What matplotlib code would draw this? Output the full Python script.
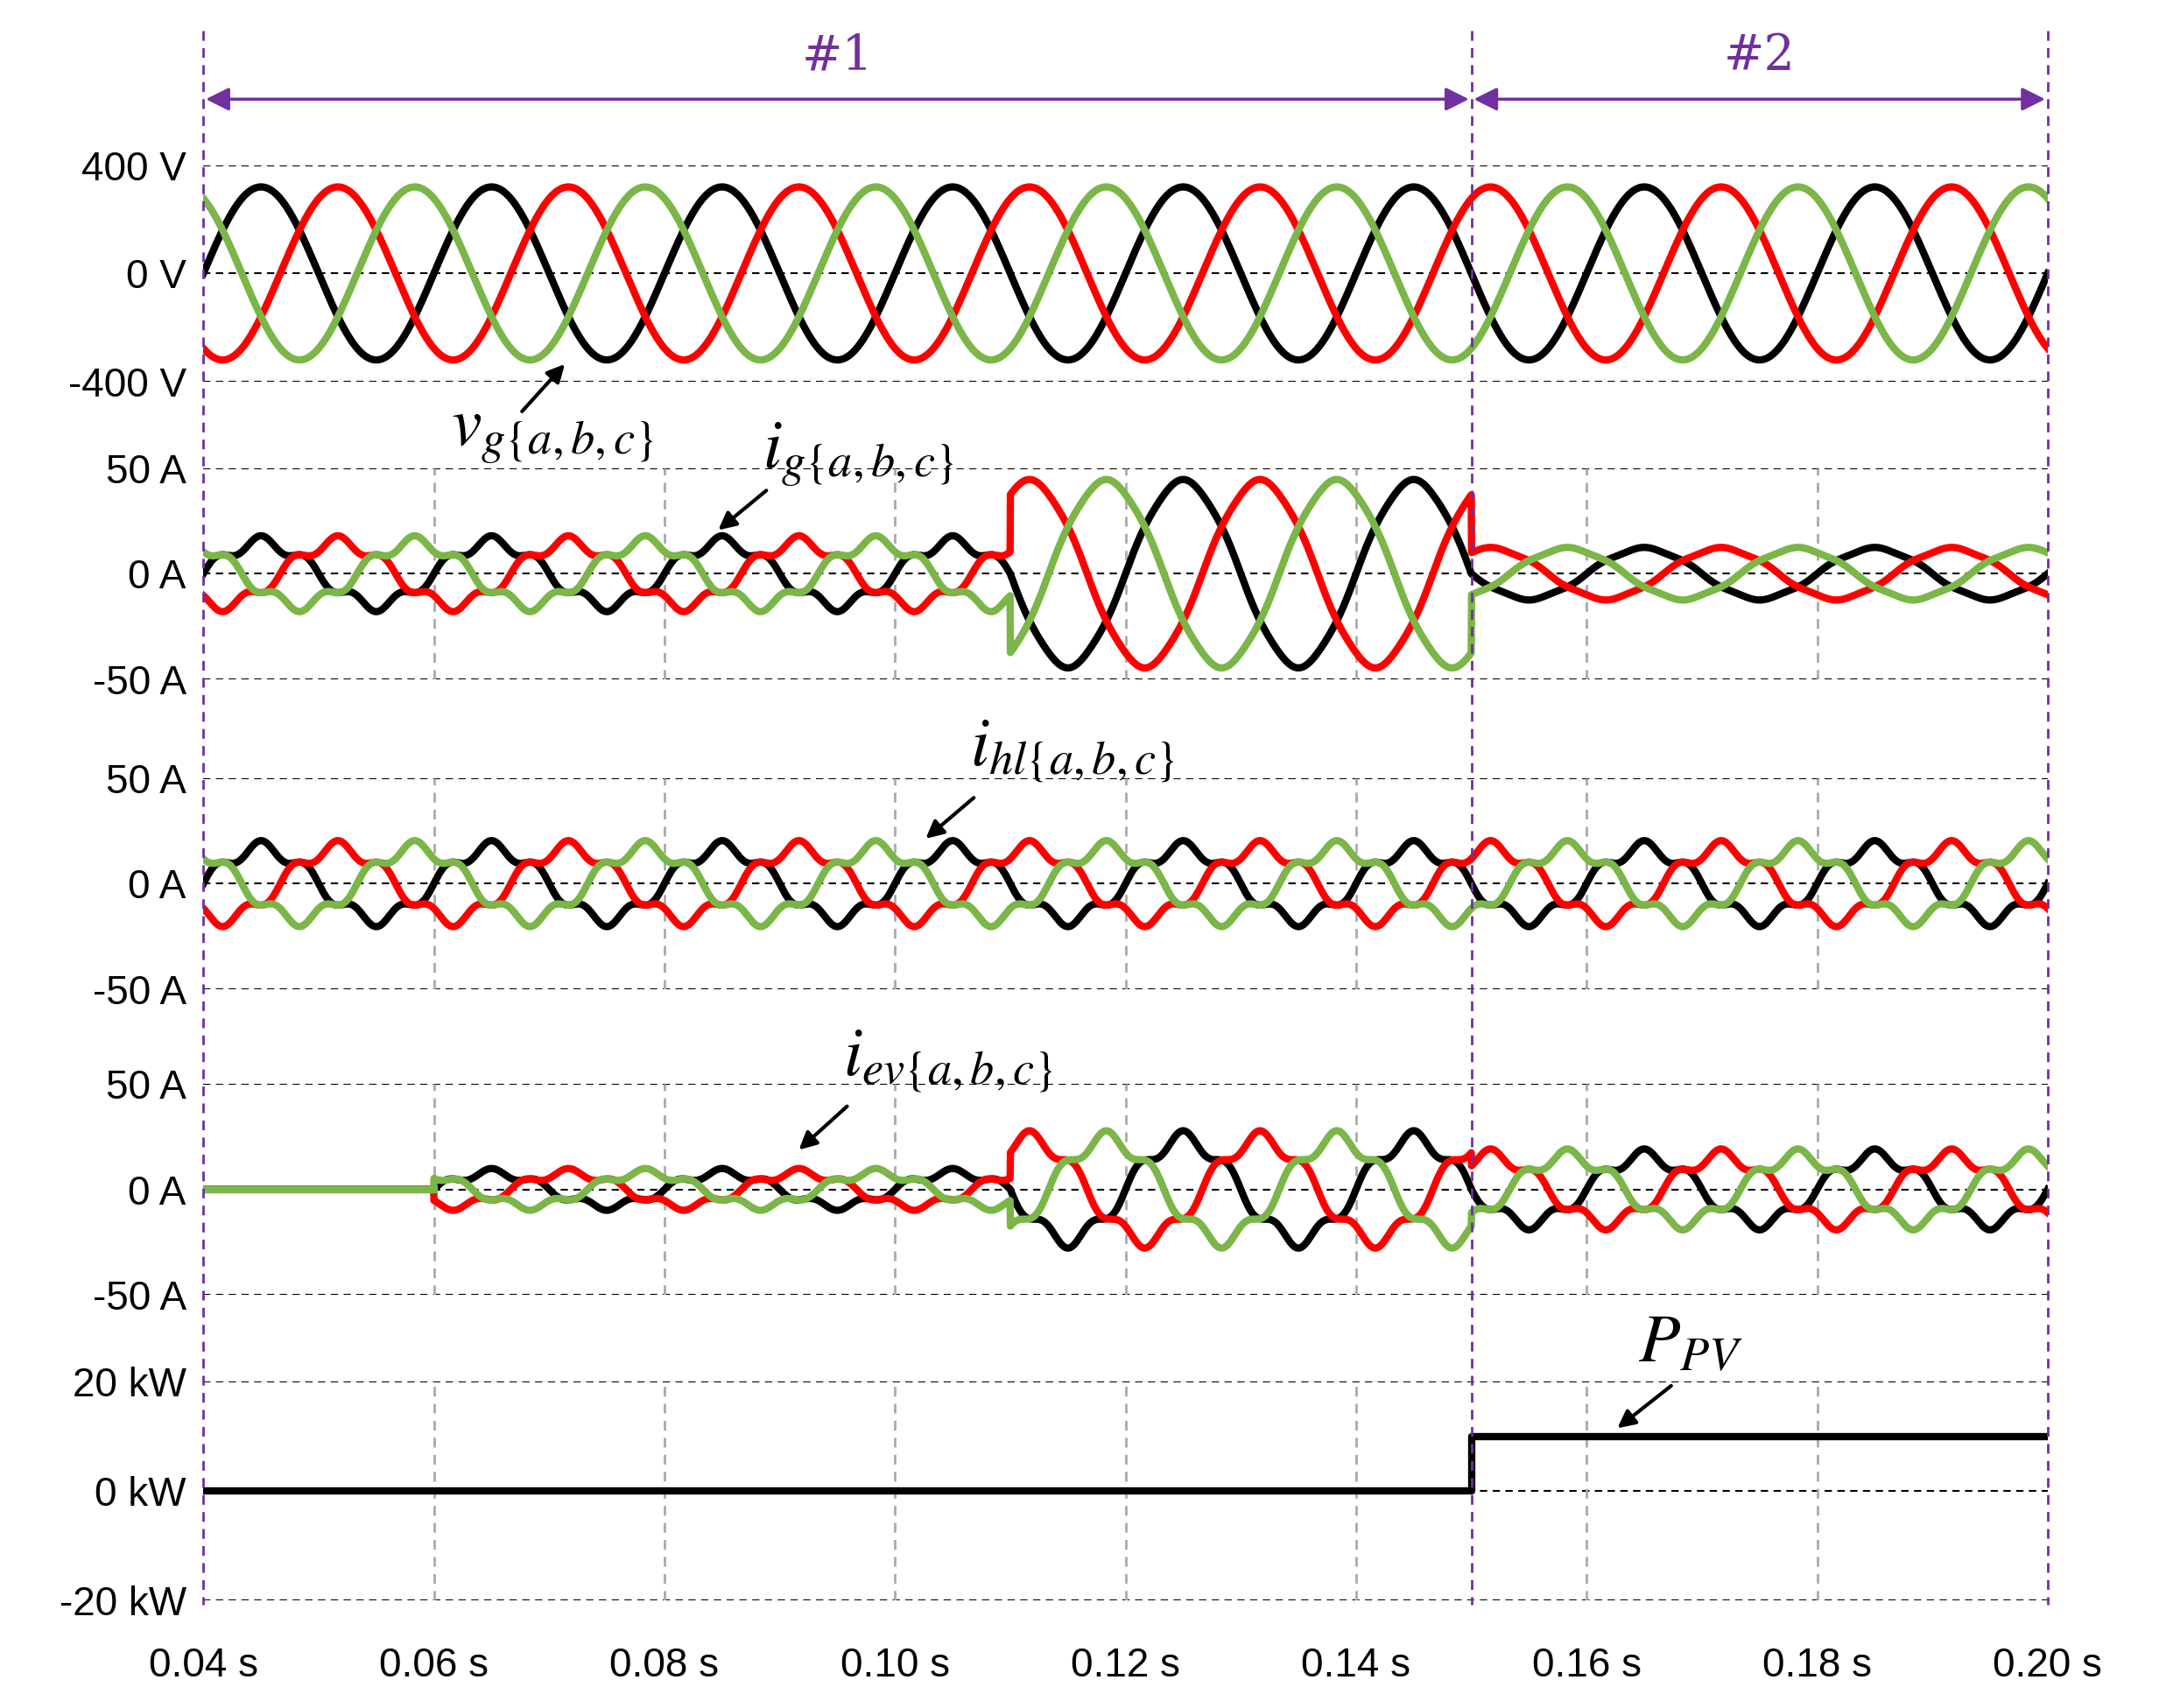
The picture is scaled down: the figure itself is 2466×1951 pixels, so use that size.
import numpy as np
import matplotlib
matplotlib.use("Agg")
import matplotlib.pyplot as plt

plt.rcParams['font.family'] = ['Liberation Sans', 'DejaVu Sans']
plt.rcParams['mathtext.fontset'] = 'stix'

# ---- data ----
f0 = 50.0
v_amp = 320.0
seg_t = [0.04, 0.06, 0.11, 0.15, 0.20]
ig_amp = [15, 15, 44, 12]
ig_h5 = [0.25, 0.25, 0.02, 0.05]
ihl_amp = [17, 17, 17, 17]
ihl_h5 = [0.25, 0.25, 0.25, 0.25]
iev_amp = [0, 8, 24, 16]
iev_h5 = [0.3, 0.3, 0.2, 0.25]
ppv_t = [0.04, 0.15, 0.15, 0.20]
ppv_v = [0, 0, 10, 10]
xticks = [0.04, 0.06, 0.08, 0.10, 0.12, 0.14, 0.16, 0.18, 0.20]
phase_cols = ['black', 'red', '#7ab648']

t = np.linspace(0.04, 0.20, 6000)
w = 2 * np.pi * f0

def seg_val(arr):
    idx = np.clip(np.searchsorted(seg_t, t, side='right') - 1, 0, len(arr) - 1)
    return np.array(arr)[idx]

def wave(amps, h5, ph):
    A = seg_val(amps); H = seg_val(h5)
    return A * (np.sin(w * t + ph) + H * np.sin(5 * (w * t + ph)) * 0.8)

W, H = 1571.0, 1240.0
fig = plt.figure(figsize=(24.66, 19.51), dpi=100)
L, R = 148 / W, 1490 / W

def add_ax(top, bot):
    return fig.add_axes([L, 1 - bot / H, R - L, (bot - top) / H])

panels = [
    (120, 277, 400, ['400 V', '0 V', '-400 V'], False),
    (340, 493, 50, ['50 A', '0 A', '-50 A'], True),
    (565, 718, 50, ['50 A', '0 A', '-50 A'], True),
    (787, 940, 50, ['50 A', '0 A', '-50 A'], True),
    (1003, 1162, 20, ['20 kW', '0 kW', '-20 kW'], True),
]
phases = [0, -2 * np.pi / 3, 2 * np.pi / 3]
axes = []
for i, (top, bot, lim, labs, vgrid) in enumerate(panels):
    ax = add_ax(top, bot)
    ax.set_xlim(0.04, 0.20); ax.set_ylim(-lim, lim)
    for s in ax.spines.values():
        s.set_visible(False)
    ax.set_yticks([lim, 0, -lim]); ax.set_yticklabels(labs, fontsize=33)
    ax.tick_params(length=0, pad=14)
    for yv in [lim, 0, -lim]:
        ax.axhline(yv, color='black', ls=(0, (4, 3)), lw=1.5, zorder=1)
    if vgrid:
        for xv in xticks[1:-1]:
            ax.axvline(xv, color='#aaaaaa', ls=(0, (4, 3)), lw=2, zorder=1)
    ax.set_xticks(xticks)
    if i == 4:
        ax.set_xticklabels([f'{x:.2f} s' for x in xticks], fontsize=33)
        ax.tick_params(axis='x', pad=38)
    else:
        ax.set_xticklabels([])
    axes.append(ax)

for ph, c in zip(phases, phase_cols):
    axes[0].plot(t, v_amp * np.sin(w * t + ph), color=c, lw=6, zorder=3)
    axes[1].plot(t, wave(ig_amp, ig_h5, ph), color=c, lw=6, zorder=3)
    axes[2].plot(t, wave(ihl_amp, ihl_h5, ph), color=c, lw=6, zorder=3)
    axes[3].plot(t, wave(iev_amp, iev_h5, ph), color=c, lw=6, zorder=3)
axes[3].plot([0.04, 0.06], [0, 0], color=phase_cols[2], lw=6, zorder=4)
axes[4].plot(ppv_t, ppv_v, color='black', lw=6, zorder=3)

ov = fig.add_axes([L, 1 - 1165 / H, R - L, (1165 - 20) / H])
ov.set_xlim(0.04, 0.20); ov.set_ylim(1165, 20); ov.axis('off'); ov.patch.set_alpha(0)
pur = '#7030a0'
for xv in [0.04, 0.15, 0.20]:
    ov.plot([xv, xv], [22, 1165], color=pur, ls=(0, (4, 3)), lw=2, clip_on=False)
ap = dict(arrowstyle='<|-|>', color=pur, lw=2.5, mutation_scale=40)
ov.annotate('', xy=(0.04, 72), xytext=(0.15, 72), arrowprops=ap)
ov.annotate('', xy=(0.15, 72), xytext=(0.20, 72), arrowprops=ap)
ov.text(0.095, 58, '#1', color=pur, fontsize=40, ha='center', va='bottom', family='serif')
ov.text(0.175, 58, '#2', color=pur, fontsize=40, ha='center', va='bottom', family='serif')

ak = dict(arrowstyle='-|>', color='black', lw=3, mutation_scale=30)
lbl = dict(fontsize=56, color='black')
ov.annotate('', xy=(0.0715, 263), xytext=(0.0675, 300), arrowprops=ak)
ov.text(0.0615, 315, r'$v_{g\{a,b,c\}}$', ha='left', va='center', **lbl)
ov.annotate('', xy=(0.0845, 386), xytext=(0.089, 355), arrowprops=ak)
ov.text(0.0885, 330, r'$i_{g\{a,b,c\}}$', ha='left', va='center', **lbl)
ov.annotate('', xy=(0.1025, 610), xytext=(0.107, 578), arrowprops=ak)
ov.text(0.1065, 545, r'$i_{hl\{a,b,c\}}$', ha='left', va='center', **lbl)
ov.annotate('', xy=(0.0915, 836), xytext=(0.096, 802), arrowprops=ak)
ov.text(0.0955, 770, r'$i_{ev\{a,b,c\}}$', ha='left', va='center', **lbl)
ov.annotate('', xy=(0.1625, 1038), xytext=(0.1675, 1005), arrowprops=ak)
ov.text(0.1645, 975, r'$P_{PV}$', ha='left', va='center', **lbl)

fig.savefig('out.png', dpi=100)
